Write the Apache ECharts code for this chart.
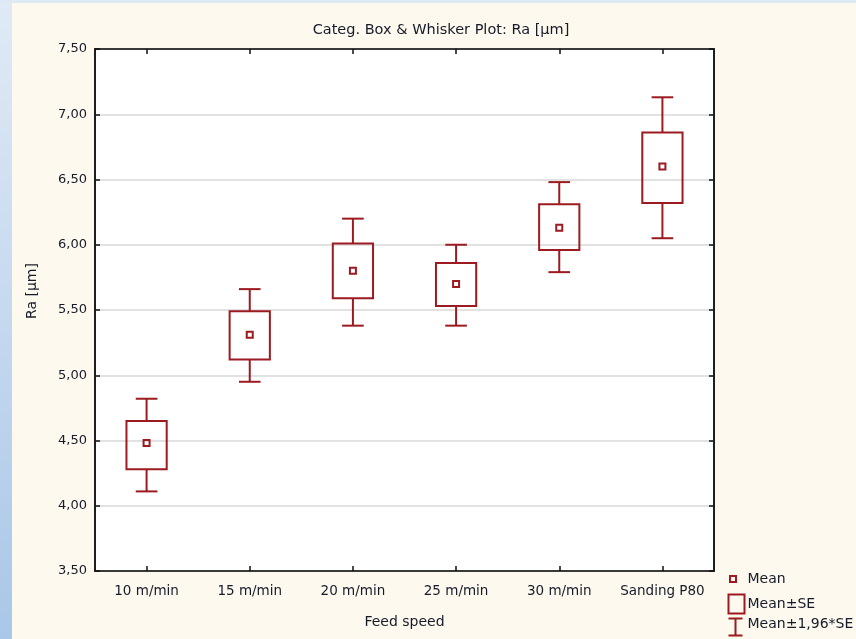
<!DOCTYPE html>
<html>
<head>
<meta charset="utf-8">
<script src="https://cdn.jsdelivr.net/npm/echarts@6/dist/echarts.min.js"></script>
<style>html,body{margin:0;padding:0;background:#fef9ee;}#c{width:856px;height:639px;}</style>
</head>
<body>
<div id="c"></div>
<script>
const categories = ['10 m/min', '15 m/min', '20 m/min', '25 m/min', '30 m/min', 'Sanding P80'];
const meanValues = [4.48, 5.31, 5.80, 5.70, 6.13, 6.60];
const seLow = [4.28, 5.12, 5.59, 5.53, 5.96, 6.32];
const seHigh = [4.65, 5.49, 6.01, 5.86, 6.31, 6.86];
const ciLow = [4.11, 4.95, 5.38, 5.38, 5.79, 6.05];
const ciHigh = [4.82, 5.66, 6.20, 6.00, 6.48, 7.13];
const yTicks = [3.5, 4.0, 4.5, 5.0, 5.5, 6.0, 6.5, 7.0, 7.5];

const RED = '#9b1b20';
const TXT = '#161b2a';
const FONT = 'DejaVu Sans';

const boxData = categories.map((c, i) => [i, ciLow[i], seLow[i], meanValues[i], seHigh[i], ciHigh[i]]);

function renderBox(params, api) {
  const i = api.value(0);
  const pLow = api.coord([i, api.value(1)]);
  const pSeL = api.coord([i, api.value(2)]);
  const pM = api.coord([i, api.value(3)]);
  const pSeH = api.coord([i, api.value(4)]);
  const pHigh = api.coord([i, api.value(5)]);
  const band = api.size([1, 0])[0];
  const bw = band * 0.39;
  const cw = band * 0.21;
  const x = pM[0];
  const st = { stroke: RED, lineWidth: 2, fill: null };
  return {
    type: 'group',
    children: [
      { type: 'line', shape: { x1: x, y1: pHigh[1], x2: x, y2: pSeH[1] }, style: st },
      { type: 'line', shape: { x1: x - cw / 2, y1: pHigh[1], x2: x + cw / 2, y2: pHigh[1] }, style: st },
      { type: 'line', shape: { x1: x, y1: pLow[1], x2: x, y2: pSeL[1] }, style: st },
      { type: 'line', shape: { x1: x - cw / 2, y1: pLow[1], x2: x + cw / 2, y2: pLow[1] }, style: st },
      { type: 'rect', shape: { x: x - bw / 2, y: pSeH[1], width: bw, height: pSeL[1] - pSeH[1] }, style: { stroke: RED, lineWidth: 2, fill: 'rgba(0,0,0,0)' } },
      { type: 'rect', shape: { x: x - 3, y: pM[1] - 3, width: 6, height: 6 }, style: { stroke: RED, lineWidth: 2, fill: 'rgba(0,0,0,0)' } }
    ]
  };
}

const chart = echarts.init(document.getElementById('c'), null, { renderer: 'canvas' });
chart.setOption({
  backgroundColor: '#fef9ee',
  animation: false,
  title: {
    text: 'Categ. Box & Whisker Plot: Ra [µm]',
    left: 436, top: 18, textAlign: 'center',
    textStyle: { fontFamily: FONT, fontSize: 14.5, fontWeight: 'normal', color: TXT }
  },
  grid: { left: 95, right: 142, top: 49, bottom: 68, show: true, backgroundColor: '#ffffff', borderColor: '#111', borderWidth: 1.5 },
  xAxis: [{
    type: 'category', data: categories, position: 'bottom',
    name: 'Feed speed', nameLocation: 'middle', nameGap: 44,
    nameTextStyle: { fontFamily: FONT, fontSize: 14, color: TXT },
    axisLine: { show: true, lineStyle: { color: '#111', width: 1.5 } },
    axisTick: { show: true, inside: true, alignWithLabel: true, length: 5, lineStyle: { color: '#111', width: 1.5 } },
    axisLabel: { fontFamily: FONT, fontSize: 13.5, color: TXT, margin: 13, interval: 0 },
    splitLine: { show: false }
  }, {
    type: 'category', data: categories, position: 'top',
    axisLine: { show: true, lineStyle: { color: '#111', width: 1.5 } },
    axisTick: { show: true, inside: true, alignWithLabel: true, length: 5, lineStyle: { color: '#111', width: 1.5 } },
    axisLabel: { show: false }, splitLine: { show: false }
  }],
  yAxis: [{
    type: 'value', min: 3.5, max: 7.5, interval: 0.5, position: 'left',
    name: 'Ra [µm]', nameLocation: 'middle', nameGap: 56, nameRotate: 90,
    nameTextStyle: { fontFamily: FONT, fontSize: 14, color: TXT, padding: [0, 0, 0, 38] },
    axisLine: { show: true, lineStyle: { color: '#111', width: 1.5 } },
    axisTick: { show: true, inside: true, length: 5, lineStyle: { color: '#111', width: 1.5 } },
    axisLabel: { fontFamily: FONT, fontSize: 13, color: TXT, margin: 8, formatter: v => v.toFixed(2).replace('.', ',') },
    splitLine: { show: true, lineStyle: { color: '#d9d9d9', width: 1.5 } }
  }, {
    type: 'value', min: 3.5, max: 7.5, interval: 0.5, position: 'right',
    axisLine: { show: true, lineStyle: { color: '#111', width: 1.5 } },
    axisTick: { show: true, inside: true, length: 5, lineStyle: { color: '#111', width: 1.5 } },
    axisLabel: { show: false }, splitLine: { show: false }
  }],
  series: [{
    type: 'custom', name: 'Box', renderItem: renderBox, data: boxData,
    encode: { x: 0, y: [1, 2, 3, 4, 5] }, xAxisIndex: 0, yAxisIndex: 0, clip: false
  }],
  graphic: [
    { type: 'rect', left: 0, top: 0, shape: { width: 12, height: 639 }, z: 100,
      style: { fill: new echarts.graphic.LinearGradient(0, 0, 0, 1, [{ offset: 0, color: '#e0eaf6' }, { offset: 1, color: '#a9c7e7' }]) } },
    { type: 'rect', left: 0, top: 0, shape: { width: 856, height: 3 }, z: 100, style: { fill: '#dde9f5' } },
    { type: 'group', left: 726, top: 572, children: [
      { type: 'rect', shape: { x: 2.5, y: 1.5, width: 6, height: 6 }, style: { stroke: RED, lineWidth: 2, fill: 'rgba(0,0,0,0)' } },
      { type: 'text', x: 20, y: 4.5, style: { text: 'Mean', fontFamily: FONT, fontSize: 14, fill: TXT, textVerticalAlign: 'middle' } },
      { type: 'rect', shape: { x: 1, y: 20, width: 16, height: 19 }, style: { stroke: RED, lineWidth: 2, fill: 'rgba(0,0,0,0)' } },
      { type: 'text', x: 20, y: 29.5, style: { text: 'Mean±SE', fontFamily: FONT, fontSize: 14, fill: TXT, textVerticalAlign: 'middle' } },
      { type: 'line', shape: { x1: 1, y1: 44, x2: 15, y2: 44 }, style: { stroke: RED, lineWidth: 2 } },
      { type: 'line', shape: { x1: 8, y1: 44, x2: 8, y2: 61 }, style: { stroke: RED, lineWidth: 2 } },
      { type: 'line', shape: { x1: 1, y1: 61, x2: 15, y2: 61 }, style: { stroke: RED, lineWidth: 2 } },
      { type: 'text', x: 20, y: 50, style: { text: 'Mean±1,96*SE', fontFamily: FONT, fontSize: 14, fill: TXT, textVerticalAlign: 'middle' } }
    ] }
  ]
});
</script>
</body>
</html>
